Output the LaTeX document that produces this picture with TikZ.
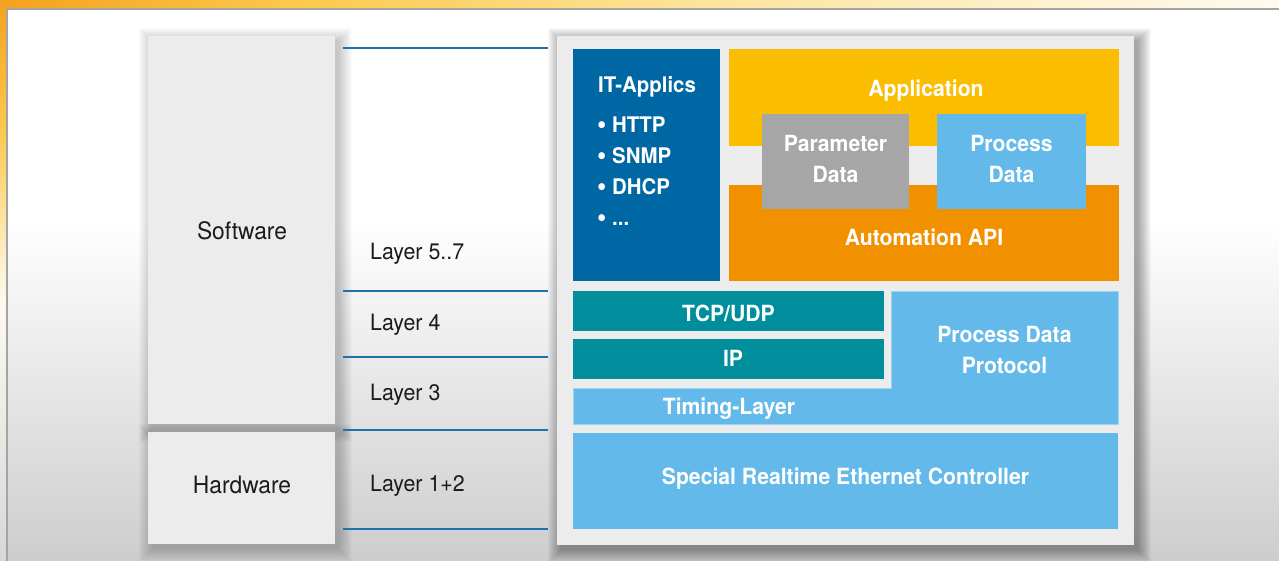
\documentclass[tikz,border=0pt]{standalone}
\usepackage{fontspec}
\setmainfont{TeX Gyre Heros}[FakeStretch=0.95]

\definecolor{itblue}{HTML}{0067A5}
\definecolor{appyellow}{HTML}{FBBD00}
\definecolor{apiorange}{HTML}{F29100}
\definecolor{paramgrey}{HTML}{A6A6A6}
\definecolor{skyblue}{HTML}{63BAEA}
\definecolor{skyedge}{HTML}{9CD2F2}
\definecolor{teal}{HTML}{008D9C}
\definecolor{panelgrey}{HTML}{ECECEC}
\definecolor{lineblue}{HTML}{2070AA}
\definecolor{ink}{HTML}{1B1B1B}
\definecolor{rulegrey}{HTML}{A4A4A4}
\definecolor{bgbottom}{HTML}{CDCDCD}
\definecolor{stripA}{HTML}{F4A11E}
\definecolor{stripB}{HTML}{FCC94D}
\definecolor{stripC}{HTML}{FDE49B}
\definecolor{stripD}{HTML}{FEFAF0}

% soft drop shadow made of stacked translucent rectangles
\newcommand\softshadow[5]{%
  \foreach \k in {0,...,13}{%
    \fill[black,opacity=#5] (#1+4-\k,#2+5-\k) rectangle (#3+4+\k,#4+5+\k);}}
% list bullet, a little larger than the font's own
\newcommand\bigdot{\raisebox{-0.5pt}{\scalebox{1.3}{\textbullet}}}

\begin{document}
\begin{tikzpicture}[x=1pt,y=-1pt,
  lbl/.style={font=\fontsize{22.5}{27}\selectfont, text=ink, anchor=base west, inner sep=0pt},
  ctrlbl/.style={font=\fontsize{24}{28}\selectfont, text=ink, anchor=base, inner sep=0pt},
  wlbl/.style={font=\fontsize{22.3}{26}\selectfont\bfseries, text=white, anchor=base, inner sep=0pt},
  wlist/.style={font=\fontsize{21.5}{26}\selectfont\bfseries, text=white, anchor=base west, inner sep=0pt},
  layerline/.style={draw=lineblue, line width=2.4pt},
]
\useasboundingbox (0,0) rectangle (1279,561);

% page background
\fill[white] (0,0) rectangle (1279,220);
\shade[top color=white, bottom color=bgbottom] (0,220) rectangle (1279,561);

% warm strip along the top and left edge
\shade[left color=stripA, right color=stripB] (0,0) rectangle (300,8.5);
\shade[left color=stripB, right color=stripC] (300,0) rectangle (700,8.5);
\shade[left color=stripC, right color=stripD] (700,0) rectangle (1279,8.5);
\shade[top color=stripA, bottom color=stripB] (0,0) rectangle (6.5,130);
\shade[top color=stripB, bottom color=stripD] (0,130) rectangle (6.5,300);
\shade[top color=stripD, bottom color=bgbottom!80!white] (0,300) rectangle (6.5,561);
\draw[rulegrey, line width=1.5pt] (6.5,9.2) -- (1279,9.2);
\draw[rulegrey, line width=1.2pt] (7,9.2) -- (7,561);

% shadows
\softshadow{148}{36}{335}{424}{0.015}
\softshadow{148}{432}{335}{544}{0.015}
\softshadow{557}{36}{1134}{545}{0.026}

% software / hardware blocks
\fill[panelgrey] (148,36) rectangle (335,424);
\fill[panelgrey] (148,432) rectangle (335,544);
\node[ctrlbl] (sw) at (242,240) {Software};
\node[ctrlbl] (hw) at (242,493) {Hardware};

% layer separators
\coordinate (s0w) at (343,48);  \coordinate (s0e) at (548,48);
\coordinate (s1w) at (343,291); \coordinate (s1e) at (548,291);
\coordinate (s2w) at (343,357); \coordinate (s2e) at (548,357);
\coordinate (s3w) at (343,430); \coordinate (s3e) at (548,430);
\coordinate (s4w) at (343,529); \coordinate (s4e) at (548,529);
\foreach \i in {0,...,4}{\draw[layerline] (s\i w) -- (s\i e);}

\node[lbl] (l57) at (370,260) {Layer 5..7};
\node[lbl] (l4)  at (370,330) {Layer 4};
\node[lbl] (l3)  at (370,400) {Layer 3};
\node[lbl] (l12) at (370,491) {Layer 1+2};

% protocol stack panel
\fill[panelgrey] (557,36) rectangle (1134,545);

\fill[itblue] (573,49) rectangle (720,281);
\node[wlist] (it)   at (598,93)  {IT-Applics};
\node[wlist] (http) at (597,133) {\bigdot\ HTTP};
\node[wlist] (snmp) at (597,164) {\bigdot\ SNMP};
\node[wlist] (dhcp) at (597,195) {\bigdot\ DHCP};
\node[wlist] (more) at (597,226) {\bigdot\ ...};

\fill[appyellow] (729,49) rectangle (1119,146);
\fill[apiorange] (729,185) rectangle (1119,281);
\node[wlbl] (app) at (926,97) {Application};
\node[wlbl] (api) at (924,246) {Automation API};

\fill[paramgrey] (762,114) rectangle (909,209);
\node[wlbl] (par1) at (835.5,152) {Parameter};
\node[wlbl] (par2) at (835.5,183) {Data};
\fill[skyblue] (937,114) rectangle (1086,209);
\node[wlbl] (pd1) at (1011.5,152) {Process};
\node[wlbl] (pd2) at (1011.5,183) {Data};

\fill[teal] (573,291) rectangle (884,331);
\node[wlbl] (tcp) at (728.5,321) {TCP/UDP};
\fill[teal] (573,339) rectangle (884,379);
\node[wlbl] (ip) at (733,366) {IP};

\filldraw[fill=skyblue, draw=skyedge, line width=0.8pt]
  (573,388) -- (891,388) -- (891,291) -- (1118,291) -- (1118,424) -- (573,424) -- cycle;
\node[wlbl] (pdp1) at (1004.5,342) {Process Data};
\node[wlbl] (pdp2) at (1004.5,373) {Protocol};
\node[wlbl] (tim)  at (729,414) {Timing-Layer};

\fill[skyblue] (573,433) rectangle (1118,529);
\node[wlbl] (eth) at (845.5,484) {Special Realtime Ethernet Controller};
\end{tikzpicture}
\end{document}
